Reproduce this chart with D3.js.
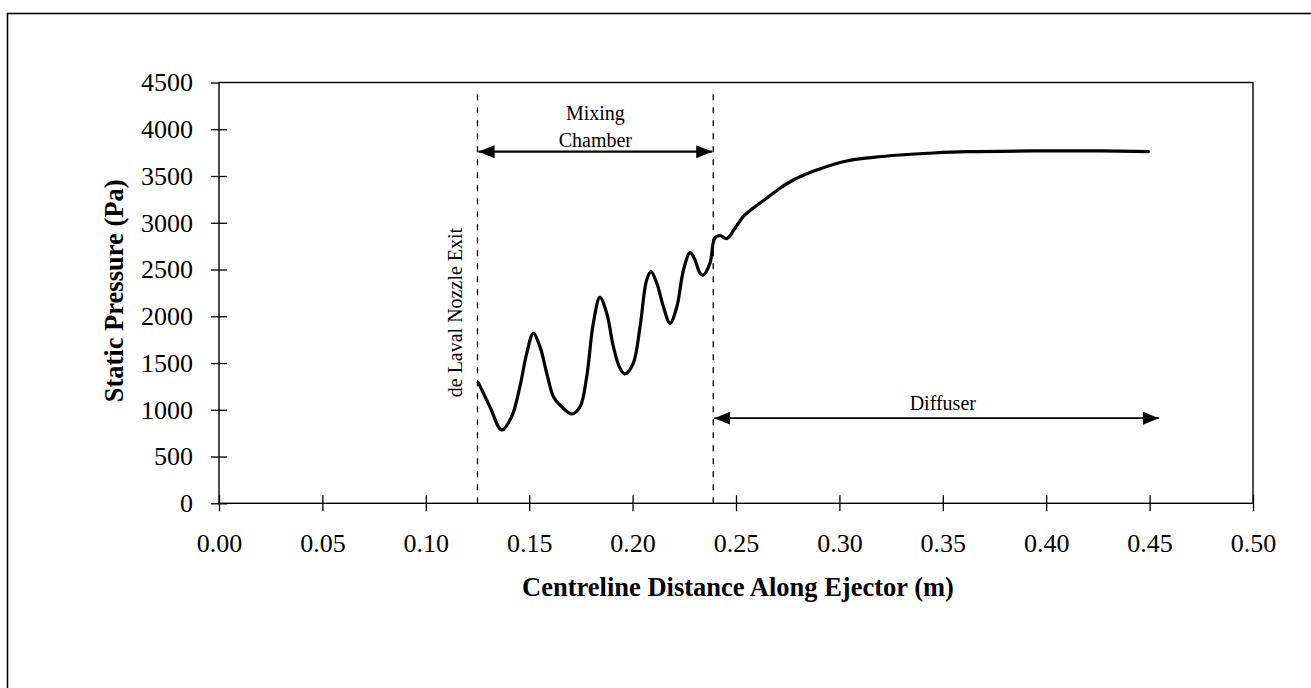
<!DOCTYPE html>
<html>
<head>
<meta charset="utf-8">
<script src="https://cdn.jsdelivr.net/npm/d3@7"></script>
<style>
  body { margin: 0; background: #fff; }
  svg { display: block; }
  text { font-family: "Liberation Serif", "Times New Roman", serif; fill: #000; }
</style>
</head>
<body>
<svg id="chart" width="1311" height="688"></svg>
<script>
// Centreline static pressure along the ejector
const distance = [
  0.1254, 0.1310, 0.1367, 0.1415, 0.1455, 0.1488, 0.1520, 0.1552, 0.1585, 0.1617,
  0.1649, 0.1705, 0.1746, 0.1778, 0.1810, 0.1842, 0.1875, 0.1907, 0.1939, 0.1963,
  0.2003, 0.2036, 0.2068, 0.2089, 0.2117, 0.2149, 0.2181, 0.2214, 0.2246, 0.2278,
  0.2302, 0.2326, 0.2342, 0.2374, 0.2398, 0.2423, 0.2455, 0.2495, 0.2535, 0.2592,
  0.2648, 0.2713, 0.2777, 0.2890, 0.3035, 0.3164, 0.3293, 0.3454, 0.3616, 0.3938,
  0.4260, 0.4494
];
const pressure = [
  1290, 1033, 784, 926, 1247, 1604, 1818, 1675, 1390, 1140,
  1051, 955, 1033, 1354, 1925, 2203, 2032, 1675, 1444, 1383,
  1497, 1889, 2388, 2477, 2353, 2102, 1925, 2102, 2495, 2680,
  2602, 2460, 2441, 2567, 2840, 2862, 2830, 2941, 3065, 3172,
  3262, 3369, 3457, 3564, 3661, 3700, 3725, 3746, 3760, 3768,
  3768, 3760
];

const xTicks = [0, 0.05, 0.10, 0.15, 0.20, 0.25, 0.30, 0.35, 0.40, 0.45, 0.50];
const yTicks = [0, 500, 1000, 1500, 2000, 2500, 3000, 3500, 4000, 4500];

// Section boundaries (m): nozzle exit and end of mixing chamber
const sectionBounds = [0.125, 0.239];
const boundTop = 4420;

// Dimension arrows: [start, end, pressure level]
const mixingSpan = [0.1255, 0.2385, 3760];
const diffuserSpan = [0.2395, 0.4545, 910];

const svg = d3.select("#chart");
const W = 1311, H = 688;

const x = d3.scaleLinear().domain([0, 0.5]).range([219, 1253]);
const y = d3.scaleLinear().domain([0, 4500]).range([503.3, 82.5]);

// Outer figure frame
svg.append("rect")
  .attr("x", 7.5).attr("y", 13.5)
  .attr("width", W + 40).attr("height", H + 40)
  .attr("fill", "none").attr("stroke", "#000").attr("stroke-width", 1.6);

// Arrowhead markers
const defs = svg.append("defs");
[["tipEnd", "M0,-6.5L16,0L0,6.5Z", 16], ["tipStart", "M16,-6.5L0,0L16,6.5Z", 0]].forEach(([id, d, rx]) => {
  defs.append("marker")
    .attr("id", id)
    .attr("markerUnits", "userSpaceOnUse")
    .attr("viewBox", "0 -7 16 14")
    .attr("refX", rx).attr("refY", 0)
    .attr("markerWidth", 16).attr("markerHeight", 14)
    .attr("orient", "auto")
    .append("path").attr("d", d).attr("fill", "#000");
});

// Plot area box
svg.append("rect")
  .attr("x", x(0)).attr("y", y(4500))
  .attr("width", x(0.5) - x(0)).attr("height", y(0) - y(4500))
  .attr("fill", "none").attr("stroke", "#000").attr("stroke-width", 1.4);

// X axis
const gx = svg.append("g")
  .attr("transform", `translate(0,${y(0)})`)
  .call(d3.axisBottom(x).tickValues(xTicks).tickFormat(d3.format(".2f"))
    .tickSize(8).tickPadding(22).tickSizeOuter(0));
gx.select(".domain").remove();
gx.selectAll(".tick line").attr("y1", -8).attr("stroke", "#000").attr("stroke-width", 1.3);
gx.selectAll(".tick text")
  .attr("font-size", 26).attr("font-family", "Liberation Serif, Times New Roman, serif");

// Y axis
const gy = svg.append("g")
  .attr("transform", `translate(${x(0)},0)`)
  .call(d3.axisLeft(y).tickValues(yTicks).tickFormat(d => d)
    .tickSize(8).tickPadding(18).tickSizeOuter(0));
gy.select(".domain").remove();
gy.selectAll(".tick line").attr("x1", d => d === 4500 ? 0 : 8).attr("stroke", "#000").attr("stroke-width", 1.3);
gy.selectAll(".tick text")
  .attr("font-size", 26).attr("font-family", "Liberation Serif, Times New Roman, serif");

// Axis titles
svg.append("text")
  .attr("x", (x(0) + x(0.5)) / 2 + 2).attr("y", 596)
  .attr("text-anchor", "middle")
  .attr("font-size", 26.5).attr("font-weight", "bold")
  .text("Centreline Distance Along Ejector (m)");

svg.append("text")
  .attr("transform", `translate(123,${(y(0) + y(4500)) / 2 - 2}) rotate(-90)`)
  .attr("text-anchor", "middle")
  .attr("font-size", 26.5).attr("font-weight", "bold")
  .text("Static Pressure (Pa)");

// Section boundary lines
svg.append("g").selectAll("line")
  .data(sectionBounds)
  .join("line")
  .attr("x1", d => x(d)).attr("x2", d => x(d))
  .attr("y1", y(0)).attr("y2", y(boundTop))
  .attr("stroke", "#000").attr("stroke-width", 1.3)
  .attr("stroke-dasharray", "6,7");

// Pressure curve
const line = d3.line()
  .x((d, i) => x(distance[i]))
  .y(d => y(d))
  .curve(d3.curveCatmullRom.alpha(0.5));

svg.append("path")
  .datum(pressure)
  .attr("d", line)
  .attr("fill", "none")
  .attr("stroke", "#000")
  .attr("stroke-width", 3.2)
  .attr("stroke-linejoin", "round")
  .attr("stroke-linecap", "round");

// Mixing chamber dimension arrow
svg.append("line")
  .attr("x1", x(mixingSpan[0])).attr("x2", x(mixingSpan[1]))
  .attr("y1", y(mixingSpan[2])).attr("y2", y(mixingSpan[2]))
  .attr("stroke", "#000").attr("stroke-width", 2.2)
  .attr("marker-start", "url(#tipStart)").attr("marker-end", "url(#tipEnd)");

const midMix = (mixingSpan[0] + mixingSpan[1]) / 2;
svg.append("text")
  .attr("x", x(midMix)).attr("y", y(4100))
  .attr("text-anchor", "middle").attr("font-size", 20)
  .text("Mixing");
svg.append("text")
  .attr("x", x(midMix)).attr("y", y(3810))
  .attr("text-anchor", "middle").attr("font-size", 20)
  .text("Chamber");

// Diffuser dimension arrow
svg.append("line")
  .attr("x1", x(diffuserSpan[0])).attr("x2", x(diffuserSpan[1]))
  .attr("y1", y(diffuserSpan[2])).attr("y2", y(diffuserSpan[2]))
  .attr("stroke", "#000").attr("stroke-width", 1.8)
  .attr("marker-start", "url(#tipStart)").attr("marker-end", "url(#tipEnd)");

svg.append("text")
  .attr("x", x(0.350)).attr("y", y(1000))
  .attr("text-anchor", "middle").attr("font-size", 20)
  .text("Diffuser");

// Nozzle exit label
svg.append("text")
  .attr("transform", `translate(${x(0.1175)},${y(2040)}) rotate(-90)`)
  .attr("text-anchor", "middle").attr("font-size", 20)
  .text("de Laval Nozzle Exit");
</script>
</body>
</html>
